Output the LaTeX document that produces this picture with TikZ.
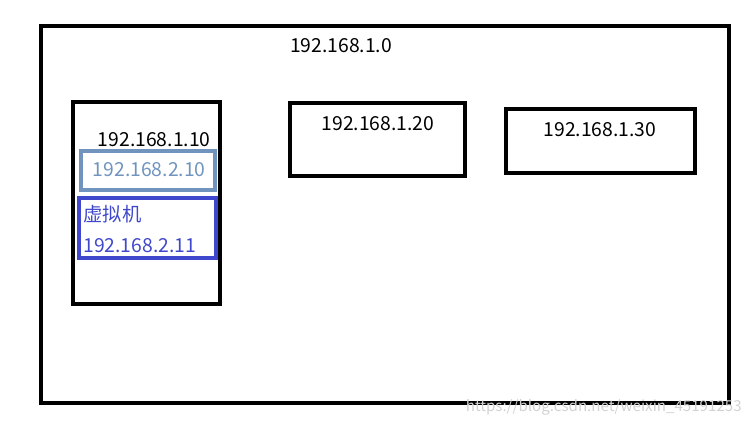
\documentclass[tikz,border=0pt]{standalone}
\usepackage{fontspec}
\setmainfont{Noto Sans CJK SC}
\definecolor{hostblue}{HTML}{7094BE}
\definecolor{vmblue}{HTML}{3F48CC}
\definecolor{markgray}{HTML}{D2D2D2}
\tikzset{
  netbox/.style={line width=2.5pt, draw=black},
  iplabel/.style={inner sep=0pt, font=\fontsize{11}{13}\selectfont},
}
\begin{document}
\begin{tikzpicture}[x=0.02cm, y=-0.02cm]  % 1 单位 = 1 像素
    \useasboundingbox (0,0) rectangle (752,425);

    % 外层网段
    \draw[netbox] (41,26) rectangle (729,403);
    \node[iplabel] (net) at (341,46) {192.168.1.0};

    % 主机 192.168.1.10
    \draw[netbox] (73,102) rectangle (220,304);
    \node[iplabel, anchor=east] (host1) at (211,140) {192.168.1.10};

    % 主机上的第二块网卡
    \draw[netbox, draw=hostblue] (81,151) rectangle (215,190);
    \node[iplabel, anchor=east, text=hostblue] (nic2) at (206,170) {192.168.2.10};

    % 虚拟机
    \draw[netbox, draw=vmblue] (79,198) rectangle (216,258);
    \node[iplabel, anchor=west, text=vmblue] (vmname) at (83,214) {虚拟机};
    \node[iplabel, anchor=west, text=vmblue] (vmip) at (83,246) {192.168.2.11};

    % 另外两台主机
    \draw[netbox] (290,103) rectangle (465,176);
    \node[iplabel] (host2) at (378,124) {192.168.1.20};
    \draw[netbox] (506,109) rectangle (695,173);
    \node[iplabel] (host3) at (600,130) {192.168.1.30};

    % 水印
    \node[inner sep=0pt, anchor=east, text=markgray, font=\fontsize{8.6}{10}\selectfont] (mark) at (742,407) {https://blog.csdn.net/weixin\_45191253};

\end{tikzpicture}
\end{document}
